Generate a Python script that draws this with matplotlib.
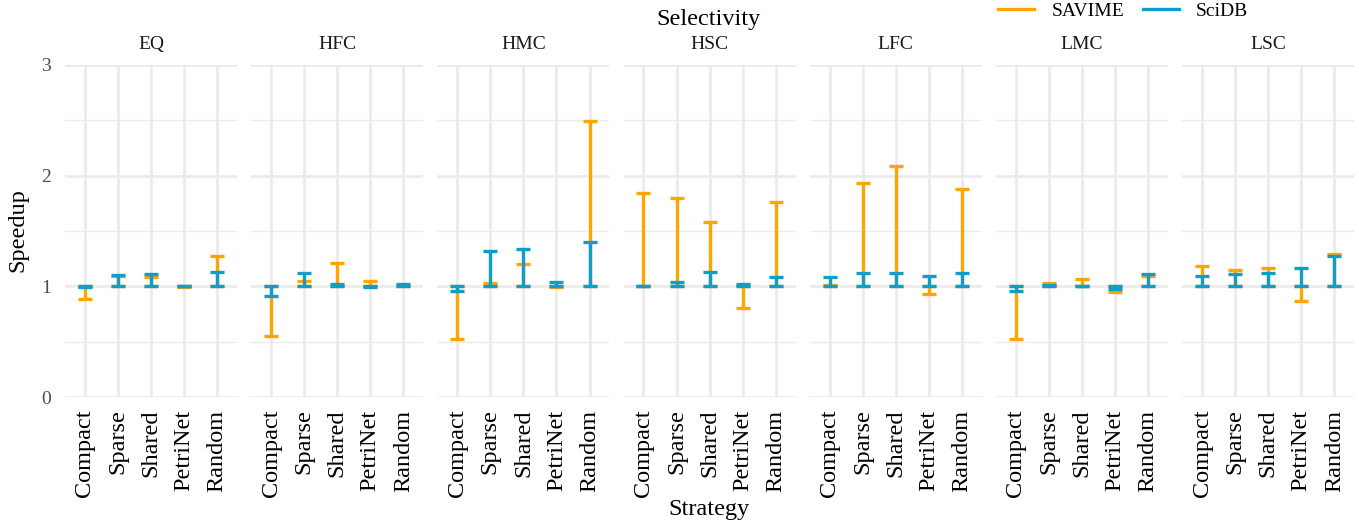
import matplotlib
matplotlib.use("Agg")
import matplotlib.pyplot as plt
from matplotlib.lines import Line2D
import numpy as np

plt.rcParams['font.family'] = ['Liberation Serif', 'DejaVu Serif']

# Data
selectivity = ["EQ", "HFC", "HMC", "HSC", "LFC", "LMC", "LSC"]
strategies = ["Compact", "Sparse", "Shared", "PetriNet", "Random"]

savime = {
    "EQ":  [0.89, 1.09, 1.08, 0.99, 1.27],
    "HFC": [0.55, 1.05, 1.21, 1.05, 1.01],
    "HMC": [0.52, 1.03, 1.20, 0.99, 2.49],
    "HSC": [1.84, 1.80, 1.58, 0.80, 1.76],
    "LFC": [1.01, 1.93, 2.09, 0.93, 1.88],
    "LMC": [0.52, 1.03, 1.07, 0.95, 1.09],
    "LSC": [1.18, 1.15, 1.17, 0.87, 1.29],
}
scidb = {
    "EQ":  [0.99, 1.10, 1.11, 1.00, 1.13],
    "HFC": [0.91, 1.12, 1.02, 0.99, 1.02],
    "HMC": [0.96, 1.32, 1.34, 1.04, 1.40],
    "HSC": [1.00, 1.04, 1.13, 1.02, 1.08],
    "LFC": [1.08, 1.12, 1.12, 1.09, 1.12],
    "LMC": [0.96, 1.01, 1.00, 0.98, 1.11],
    "LSC": [1.09, 1.11, 1.12, 1.17, 1.27],
}

c_savime = "#FFA500"
c_scidb = "#0F9DCB"

W, H = 1359, 522
fig = plt.figure(figsize=(W / 100, H / 100), dpi=100)

left0 = 65
step = 186.2
pw = 172
top = 65
bottom = 397

x = np.arange(len(strategies))


def bars(ax, vals, color):
    v = np.array(vals)
    lo = np.clip(1 - v, 0, None)
    hi = np.clip(v - 1, 0, None)
    ax.errorbar(x, np.ones_like(v), yerr=[lo, hi], fmt='none', ecolor=color,
                elinewidth=2.4, capsize=5, capthick=2.4, zorder=3)


for i, sel in enumerate(selectivity):
    l = left0 + i * step
    ax = fig.add_axes([l / W, (H - bottom) / H, pw / W, (bottom - top) / H])
    bars(ax, savime[sel], c_savime)
    bars(ax, scidb[sel], c_scidb)

    ax.set_xlim(-0.6, 4.6)
    ax.set_ylim(0, 3)
    ax.set_yticks([0, 1, 2, 3])
    ax.set_yticks([0.5, 1.5, 2.5], minor=True)
    ax.set_xticks(x)
    ax.set_xticklabels(strategies, rotation=90, fontsize=17.5, color="black")
    ax.grid(True, which="major", color="#EBEBEB", linewidth=2.0, zorder=0)
    ax.grid(True, which="minor", axis="y", color="#EBEBEB", linewidth=1.0, zorder=0)
    ax.set_axisbelow(True)
    ax.tick_params(axis="both", which="both", length=0)
    ax.tick_params(axis="x", pad=9)
    ax.tick_params(axis="y", pad=10, labelsize=14, labelcolor="#4D4D4D")
    for s in ax.spines.values():
        s.set_visible(False)
    if i > 0:
        ax.set_yticklabels([])
    ax.text(0.5, 1.063, sel, transform=ax.transAxes, ha="center", va="center",
            fontsize=14, color="#1A1A1A")

fig.text(709 / W, 1 - 19 / H, "Selectivity", ha="center", va="center", fontsize=17.5)
fig.text(709 / W, 1 - 510 / H, "Strategy", ha="center", va="center", fontsize=17.5)
fig.text(18 / W, 1 - 230 / H, "Speedup", ha="center", va="center", rotation=90, fontsize=17.5)

handles = [Line2D([], [], color=c_savime, lw=2.4), Line2D([], [], color=c_scidb, lw=2.4)]
fig.legend(handles, ["SAVIME", "SciDB"], loc="center left",
           bbox_to_anchor=(998 / W, 1 - 11 / H), ncol=2, frameon=False, fontsize=14,
           handlelength=1.85, handletextpad=0.9, columnspacing=0.95, borderaxespad=0,
           borderpad=0)

plt.savefig("out.png", dpi=100)
